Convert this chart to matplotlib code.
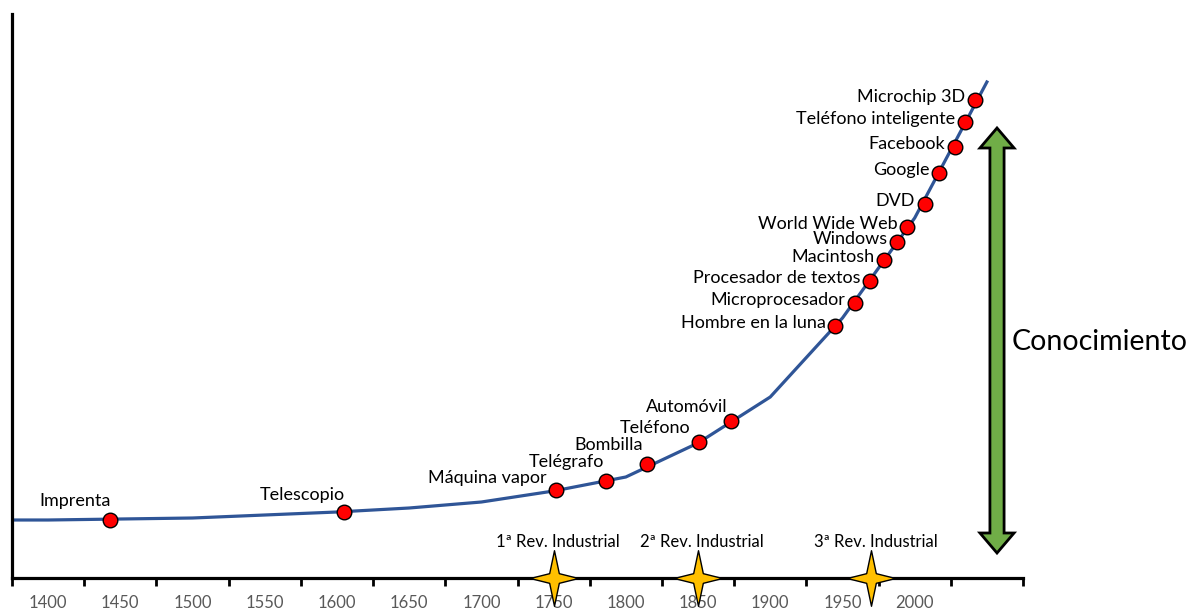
import matplotlib.pyplot as plt
from matplotlib.path import Path
from matplotlib.patches import Polygon
import numpy as np

# Knowledge curve (one value per half century)
curve_years = [1375, 1400, 1450, 1500, 1550, 1600, 1650, 1700, 1750, 1800, 1850, 1900, 1950, 2000, 2050]
curve_values = [58, 58, 59, 60, 63, 66, 70, 76, 87, 101, 135, 181, 260, 360, 496]

# Inventions on the curve
inventions = ["Imprenta", "Telescopio", "Máquina vapor", "Telégrafo", "Bombilla",
              "Teléfono", "Automóvil", "Hombre en la luna", "Microprocesador",
              "Procesador de textos", "Macintosh", "Windows", "World Wide Web",
              "DVD", "Google", "Facebook", "Teléfono inteligente", "Microchip 3D"]
invention_years = [1443, 1605, 1752, 1786, 1815, 1851, 1873, 1945, 1959, 1969,
                   1979, 1988, 1995, 2007, 2017, 2028, 2035, 2042]
invention_values = [58, 66, 88, 97, 114, 136, 157, 252, 275, 297, 318, 336, 351,
                    374, 405, 431, 456, 478]

# Industrial revolutions
revolutions = ["1ª Rev. Industrial", "2ª Rev. Industrial", "3ª Rev. Industrial"]
revolution_years = [1750, 1850, 1970]

tick_labels = ["1400", "1450", "1500", "1550", "1600", "1650", "1700",
               "1750", "1800", "1850", "1900", "1950", "2000"]

plt.rcParams["font.family"] = ["Lato", "DejaVu Sans"]

fig = plt.figure(figsize=(11.94, 6.12), dpi=100)
ax = fig.add_axes([12 / 1194, 34 / 612, 1011 / 1194, 564 / 612])
ax.set_xlim(1375, 2075)
ax.set_ylim(0, 564)

# Curve and markers
ax.plot(curve_years, curve_values, color="#2F5597", lw=2.3, zorder=2)
ax.plot(invention_years, invention_values, "o", ms=10.5, mfc="#FF0000",
        mec="black", mew=1, zorder=3)

# label offsets in points (dx, dy); first group centred above-left
offsets = [(-25, 14), (-30, 12), (-50, 9), (-28, 14), (-28, 14), (-32, 10), (-32, 10)]
for i, (name, x, y) in enumerate(zip(inventions, invention_years, invention_values)):
    if i < len(offsets):
        ax.annotate(name, (x, y), xytext=offsets[i], textcoords="offset points",
                    ha="center", va="center", fontsize=13)
    else:
        ax.annotate(name, (x, y), xytext=(-7, 2.5), textcoords="offset points",
                    ha="right", va="center", fontsize=13)

# Revolution stars
star = Path([(0, 1.15), (0.2, 0.2), (1, 0), (0.2, -0.2), (0, -1.15),
             (-0.2, -0.2), (-1, 0), (-0.2, 0.2), (0, 1.15)],
            [Path.MOVETO] + [Path.LINETO] * 7 + [Path.CLOSEPOLY])
ax.plot(revolution_years, [0] * 3, linestyle="none", marker=star, ms=40,
        mfc="#FFC000", mec="black", mew=1, clip_on=False, zorder=5)
for name, x in zip(revolutions, revolution_years):
    ax.annotate(name, (x, 0), xytext=(3, 26), textcoords="offset points",
                ha="center", va="center", fontsize=12)

# Green double arrow
ax_x, sw, hw, hl = 2057, 4.9, 11.8, 20
top, bot = 450, 25
arrow = [(ax_x, top), (ax_x + hw, top - hl), (ax_x + sw, top - hl),
         (ax_x + sw, bot + hl), (ax_x + hw, bot + hl), (ax_x, bot),
         (ax_x - hw, bot + hl), (ax_x - sw, bot + hl), (ax_x - sw, top - hl),
         (ax_x - hw, top - hl)]
ax.add_patch(Polygon(arrow, closed=True, fc="#70AD47", ec="black", lw=2, zorder=4))
ax.text(2067, 236, "Conocimiento", fontsize=20.5, ha="left", va="center",
        clip_on=False)

# Axes
for side in ["top", "right"]:
    ax.spines[side].set_visible(False)
ax.spines["left"].set_linewidth(2.3)
ax.spines["bottom"].set_linewidth(2.3)
ax.set_yticks([])
ax.set_xticks(np.arange(1375, 2076, 50))
ax.set_xticklabels([])
ax.tick_params(axis="x", which="major", length=6, width=2, direction="out")
ax.set_xticks(np.arange(1400, 2001, 50), minor=True)
ax.set_xticklabels(tick_labels, minor=True)
ax.tick_params(axis="x", which="minor", length=0, pad=12.5, labelsize=12,
               labelcolor="#595959")

fig.savefig("out.png", dpi=100)
